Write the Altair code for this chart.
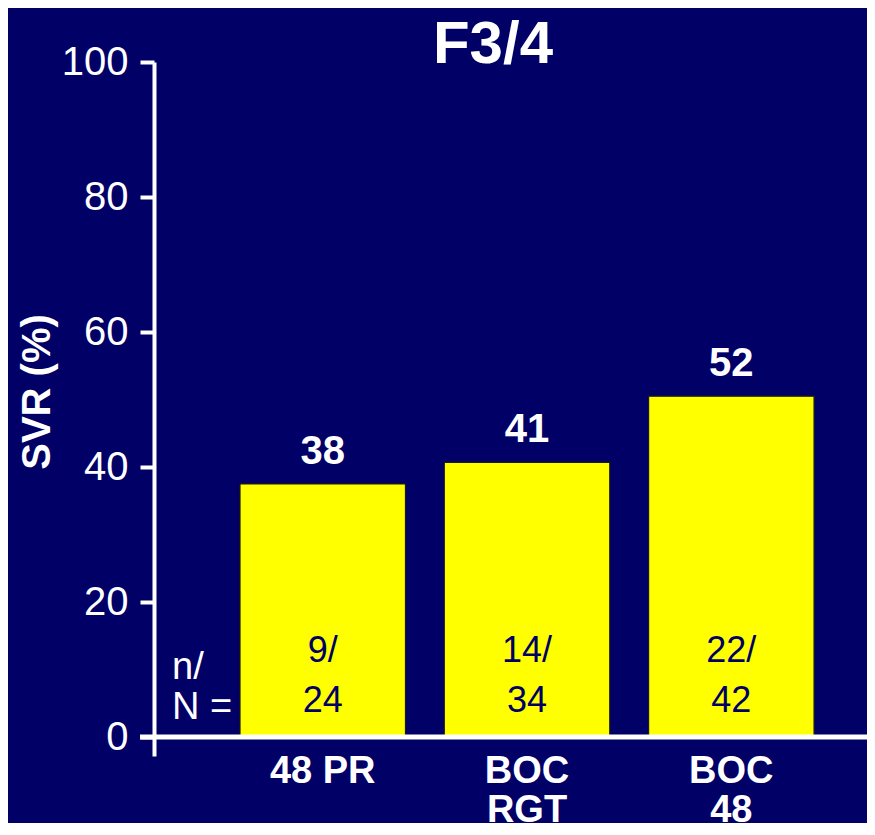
import altair as alt
import pandas as pd

# ---- data ----
groups = ["48 PR", "BOC\nRGT", "BOC\n48"]
svr = [37.5, 40.7, 50.5]
svr_labels = ["38", "41", "52"]
n_resp = [9, 14, 22]
n_total = [24, 34, 42]
y_ticks = [0, 20, 40, 60, 80, 100]
title_text = "F3/4"
y_title = "SVR (%)"
nN_text = "n/\nN ="

BG = "#000066"
FONT = "Liberation Sans"
W, H = 713, 694

df = pd.DataFrame({
    "group": groups,
    "svr": svr,
    "label": svr_labels,
    "frac": [f"{a}/\n{b}" for a, b in zip(n_resp, n_total)],
})

x_enc = alt.X(
    "group:N",
    sort=groups,
    scale=alt.Scale(paddingInner=0.19, paddingOuter=0.34, align=0.619),
    axis=alt.Axis(
        title=None,
        labelExpr="split(datum.label, '\\n')",
        labelAngle=0,
        labelFont=FONT,
        labelFontSize=38,
        labelFontWeight="bold",
        labelColor="white",
        labelLineHeight=39,
        labelPadding=-4,
        labelBaseline="top",
        domain=False,
        ticks=False,
        tickSize=0,
        labelLimit=0,
    ),
)

y_scale = alt.Scale(domain=[-2.8, 100], nice=False, zero=False)

base = alt.Chart(df)

bars = base.mark_bar(color="#FFFF00", stroke="#1a1a1a", strokeWidth=1.2).encode(
    x=x_enc,
    y=alt.Y(
        "svr:Q",
        scale=y_scale,
        axis=alt.Axis(
            values=y_ticks,
            title=y_title,
            grid=False,
            domainColor="white",
            domainWidth=4,
            tickColor="white",
            tickWidth=4,
            tickSize=14,
            labelFont=FONT,
            labelFontSize=40,
            labelColor="white",
            labelPadding=12,
            titleFont=FONT,
            titleFontSize=40,
            titleFontWeight="bold",
            titleColor="white",
            titleX=-117,
            titleY=329.5,
            titleAlign="center",
            titleBaseline="middle",
        ),
    ),
    y2=alt.datum(0),
)

values = base.mark_text(
    dy=-20, baseline="alphabetic", font=FONT, fontSize=40, fontWeight="bold", color="white"
).encode(x=alt.X("group:N", sort=groups), y="svr:Q", text="label:N")

fracs = base.mark_text(
    baseline="alphabetic", lineBreak="\n", lineHeight=50, font=FONT, fontSize=36,
    color=BG, dy=-75
).encode(x=alt.X("group:N", sort=groups), y=alt.datum(0), text="frac:N")

nN = alt.Chart(pd.DataFrame({"t": [nN_text]})).mark_text(
    align="left", baseline="alphabetic", lineBreak="\n", lineHeight=40, font=FONT,
    fontSize=38, color="white", dy=-58
).encode(x=alt.value(18), y=alt.datum(0), text="t:N")

title = alt.Chart(pd.DataFrame({"t": [title_text]})).mark_text(
    align="center", baseline="alphabetic", font=FONT, fontSize=60, fontWeight="bold",
    color="white"
).encode(x=alt.value(339), y=alt.value(1), text="t:N")

xline = alt.Chart(pd.DataFrame({"z": [0]})).mark_rule(color="white", strokeWidth=5).encode(
    y=alt.datum(0), x=alt.value(-14), x2=alt.value(W)
)

chart = (
    alt.layer(bars, values, fracs, nN, xline, title)
    .properties(
        width=W,
        height=H,
        autosize="none",
        padding={"left": 146, "top": 54, "right": 0, "bottom": 67},
        background=BG,
    )
    .configure_view(stroke="transparent")
)

chart.save("out.html", embed_options={"renderer": "svg", "actions": False})
